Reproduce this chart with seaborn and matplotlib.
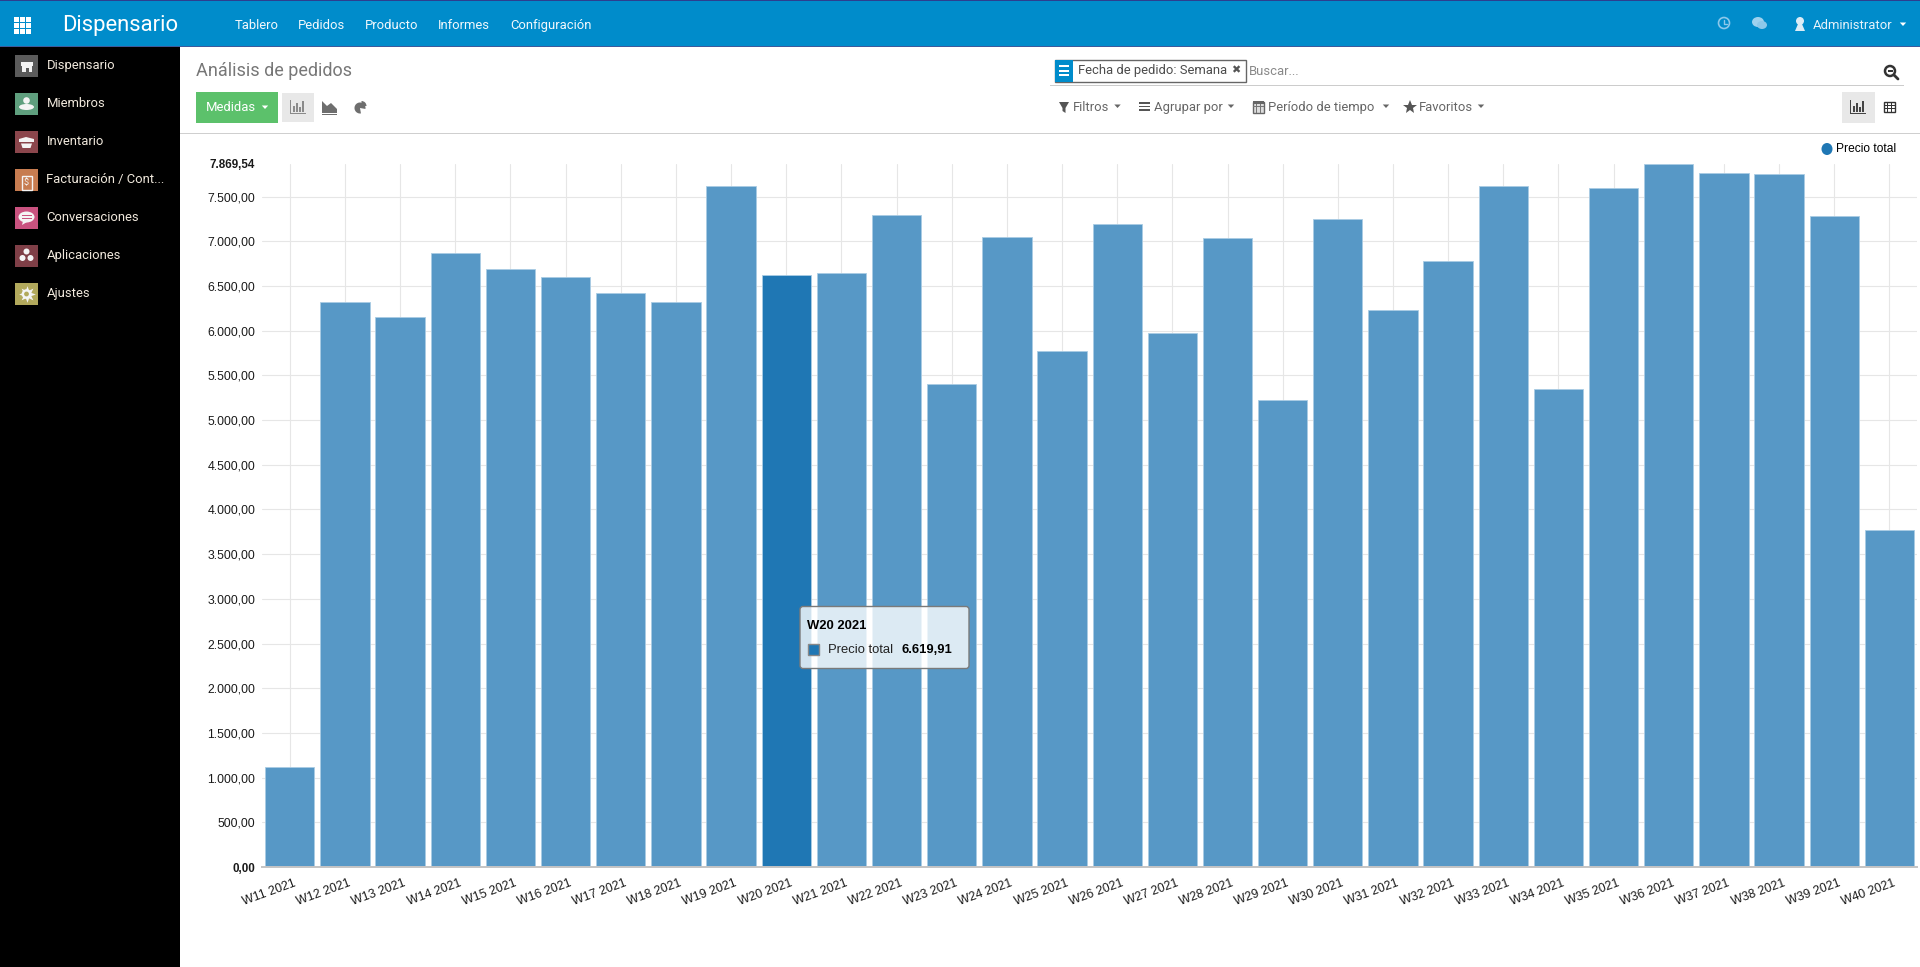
# Odoo "Análisis de pedidos": gráfico de barras semanal con la interfaz alrededor
import matplotlib.pyplot as plt
import seaborn as sns
from matplotlib.patches import Circle, Ellipse, FancyBboxPatch, Polygon, Rectangle, Wedge
from matplotlib.transforms import ScaledTranslation

weeks = ["W%d 2021" % w for w in range(11, 41)]
precio_total = [1115, 6325, 6155, 6865, 6685, 6595, 6420, 6315, 7615, 6619.91,
                6642, 7295, 5405, 7048, 5775, 7192, 5975, 7036, 5225, 7252,
                6235, 6782, 7620, 5345, 7590, 7869.54, 7765, 7752, 7282, 3770]
y_ticks = [500 * i for i in range(16)] + [7869.54]
active_week = "W20 2021"

nav_labels = ["Tablero", "Pedidos", "Producto", "Informes", "Configuración"]
nav_x = [235, 298, 365, 438, 510]
side_labels = ["Dispensario", "Miembros", "Inventario", "Facturación / Cont...",
               "Conversaciones", "Aplicaciones", "Ajustes"]
side_colors = ["#5b5b5b", "#5f9f7e", "#8b464c", "#c77c50", "#c9527f", "#7f3f47", "#b2a95c"]

BAR = "#5798c6"
ACTIVE = "#1f77b4"
GRID = "#e6e6e6"
CHART_FONT = "Liberation Sans"
UI_FONT = "Roboto"


def es_num(v):
    return f"{v:,.2f}".replace(",", "#").replace(".", ",").replace("#", ".")


def px(size):
    return size * 0.72


sns.set_theme(style="whitegrid")
plt.rcParams["font.family"] = [UI_FONT, "DejaVu Sans"]

W, H = 1920, 967
fig = plt.figure(figsize=(19.2, 9.67), dpi=100, facecolor="white")

# grafico
left, right, top, bottom = 262.2, 1917, 163.5, 867
ax = fig.add_axes([left / W, 1 - bottom / H, (right - left) / W, (bottom - top) / H])
sns.barplot(x=weeks, y=precio_total, hue=weeks, legend=False, width=0.894, ax=ax, saturation=1,
            palette=[ACTIVE if w == active_week else BAR for w in weeks],
            edgecolor="#a9cce4", linewidth=0.6)
ax.set_xlim(-0.5, len(weeks) - 0.5)
ax.set_ylim(0, max(y_ticks))
ax.set_yticks(y_ticks, [es_num(v) for v in y_ticks])
ax.set_xticks(range(len(weeks)), weeks)
ax.set_axisbelow(True)
ax.grid(True, color=GRID, linewidth=0.8)
ax.yaxis.get_gridlines()[-1].set_visible(False)
ax.set_facecolor("white")
for name in ["left", "right", "top"]:
    ax.spines[name].set_visible(False)
ax.spines["bottom"].set_color("#c4c4c4")
ax.spines["bottom"].set_linewidth(1.4)
ax.tick_params(axis="y", length=3, width=0.8, color=GRID, pad=2, labelcolor="#1a1a1a")
ax.tick_params(axis="x", length=0, pad=7.5, labelcolor="#1a1a1a")
for label in ax.get_yticklabels():
    label.set_fontfamily(CHART_FONT)
    label.set_fontsize(px(12.2))
shift = ScaledTranslation(3.5 / 100, 0, fig.dpi_scale_trans)
for label in ax.get_xticklabels():
    label.set_fontfamily(CHART_FONT)
    label.set_fontsize(px(12.4))
    label.set_rotation(20)
    label.set_rotation_mode("anchor")
    label.set_ha("right")
    label.set_transform(label.get_transform() + shift)
for label in [ax.get_yticklabels()[0], ax.get_yticklabels()[-1]]:
    label.set_fontweight("bold")
    label.set_fontsize(px(11.6))

# interfaz en pixeles
ui = fig.add_axes([0, 0, 1, 1], zorder=5)
ui.set_xlim(0, W)
ui.set_ylim(H, 0)
ui.axis("off")
ui.patch.set_alpha(0)


def rect(x0, y0, x1, y1, color, **kw):
    ui.add_patch(Rectangle((x0, y0), x1 - x0, y1 - y0, facecolor=color, edgecolor="none", **kw))


def text(x, y, s, size=13, color="#555555", family=UI_FONT, **kw):
    ui.text(x, y + 0.8, s, fontsize=px(size), color=color, family=family, va="center", **kw)


def caret(x, y, color="#666666", s=3.2):
    ui.add_patch(Polygon([(x - s, y - 1.5), (x + s, y - 1.5), (x, y + 2)], facecolor=color, edgecolor="none"))


def bars_icon(cx, cy, color):
    rect(cx - 8, cy + 6, cx + 8, cy + 7, color)
    rect(cx - 8, cy - 7, cx - 7, cy + 7, color)
    for dx, h in zip([-5, -2, 1, 4], [6, 9, 5, 11]):
        rect(cx + dx, cy + 5 - h, cx + dx + 2, cy + 5, color)


# barra superior
rect(0, 0, W, 47, "#008ccb")
rect(0, 0, W, 1, "#2c3e8f")
rect(0, 46, W, 47, "#3d5a9c")
for i in range(3):
    for j in range(3):
        rect(14 + 6.2 * i, 16.5 + 6.2 * j, 19 + 6.2 * i, 21.5 + 6.2 * j, "white")
text(62, 24.5, "Dispensario", size=22, color="white")
for x, s in zip(nav_x, nav_labels):
    text(x, 24.5, s, color="#f2f8fc")
text(1812.6, 24.5, "Administrator", color="#e8f3fa")
caret(1903, 24, "white")
ui.add_patch(Circle((1724, 23), 5.5, facecolor="none", edgecolor="#8cc8ea", linewidth=1.2))
ui.plot([1724, 1724, 1726.5], [20, 23.5, 23.5], color="#8cc8ea", linewidth=1)
ui.add_patch(Ellipse((1758, 22), 12, 10, facecolor="#9ed1ee", edgecolor="none"))
ui.add_patch(Ellipse((1762, 25), 10, 8, facecolor="#8cc8ea", edgecolor="none"))
ui.add_patch(Circle((1800, 21), 4, facecolor="#dcecf6", edgecolor="none"))
ui.add_patch(Polygon([(1798, 24), (1802, 24), (1805, 31), (1795, 31)], facecolor="#dcecf6", edgecolor="none"))

# barra lateral
rect(0, 47, 180, H, "black")
for i, (s, c) in enumerate(zip(side_labels, side_colors)):
    cy = 66 + 38 * i
    rect(15, cy - 11, 38, cy + 11, c)
    text(46.5, cy - 1.2, s, color="#f0e8dc")
ic = "#f4f4f4"
rect(20.5, 61.5, 32.5, 66, ic)
rect(21.5, 66, 31.5, 71.5, ic)
rect(26, 67.5, 29, 71.5, side_colors[0])
ui.add_patch(Circle((26.5, 100.5), 3.3, facecolor=ic, edgecolor="none"))
ui.add_patch(Ellipse((26.5, 107), 15, 6, facecolor=ic, edgecolor="none"))
ui.add_patch(Polygon([(19, 139), (26, 137), (34, 139), (34, 142), (19, 142)], facecolor=ic, edgecolor="none"))
ui.add_patch(Polygon([(21, 143.5), (32, 143.5), (30.5, 148), (22.5, 148)], facecolor=ic, edgecolor="none"))
ui.add_patch(Rectangle((21.5, 176), 10, 14, facecolor="none", edgecolor=ic, linewidth=1))
ui.text(26.5, 183, "$", fontsize=px(9), color=ic, ha="center", va="center")
ui.add_patch(Ellipse((26.5, 217), 16, 11, facecolor=ic, edgecolor="none"))
rect(21.5, 215, 31.5, 216, side_colors[4])
rect(21.5, 218, 31.5, 219, side_colors[4])
ui.add_patch(Polygon([(23, 221), (27, 222), (22, 225)], facecolor=ic, edgecolor="none"))
for cx, cy in [(26.5, 251.5), (22.5, 258), (30.5, 258)]:
    ui.add_patch(Circle((cx, cy), 3, facecolor=ic, edgecolor="none"))
ui.plot([26.5], [294], marker=(8, 1, 0), markersize=12, color=ic, markeredgewidth=0, zorder=3)
ui.add_patch(Circle((26.5, 294), 4.8, facecolor=ic, edgecolor="none", zorder=3))
ui.add_patch(Circle((26.5, 294), 2.4, facecolor=side_colors[6], edgecolor="none", zorder=4))

# cabecera de la vista
text(196, 70.5, "Análisis de pedidos", size=18, color="#777777")
rect(196, 92, 278, 123, "#5cc16b")
text(206, 107, "Medidas", color="white")
caret(265, 107, "white")
rect(282, 93, 314, 122, "#e8e8e8")
bars_icon(297.5, 107, "#8a8a8a")
ui.add_patch(Polygon([(322, 113), (322, 101), (327, 106), (331, 103), (337, 109), (337, 113)], facecolor="#6e6e6e", edgecolor="none"))
rect(322, 113.5, 337, 114.5, "#6e6e6e")
ui.add_patch(Wedge((360, 108), 5.5, 80, 370, facecolor="#6e6e6e", edgecolor="none"))
ui.add_patch(Wedge((361.5, 106), 5, 270, 360, facecolor="#6e6e6e", edgecolor="none"))
rect(180, 133, W, 134, "#cfcfcf")

# buscador
ui.add_patch(Rectangle((1055, 59.5), 191, 22, facecolor="white", edgecolor="#666666", linewidth=1))
rect(1055, 59.5, 1073, 81.5, "#008ccb")
for y in [66, 70.5, 75]:
    rect(1059, y - 1, 1069, y + 1, "white")
text(1078, 69.5, "Fecha de pedido: Semana", color="#4c4c4c")
text(1236, 70, "✖", size=11, color="#555555", family="DejaVu Sans", ha="center")
text(1249, 70.5, "Buscar...", color="#888888")
rect(1050, 85, 1904, 86, "#cccccc")
ui.add_patch(Circle((1890, 71), 5, facecolor="none", edgecolor="#333333", linewidth=1.8))
ui.plot([1894, 1898], [75, 79], color="#333333", linewidth=2)
rect(1887.5, 70.4, 1892.5, 71.6, "#333333")

# filtros
ui.add_patch(Polygon([(1059, 102), (1069, 102), (1065.5, 108), (1065.5, 113), (1062.5, 111), (1062.5, 108)], facecolor="#555555", edgecolor="none"))
text(1072.5, 106.5, "Filtros", color="#666666")
caret(1117.5, 106)
for y in [103, 106.5, 110]:
    rect(1139, y - 0.8, 1150, y + 0.8, "#555555")
text(1153.6, 106.5, "Agrupar por", color="#666666")
caret(1231, 106)
ui.add_patch(Rectangle((1253, 102), 11, 11, facecolor="#dddddd", edgecolor="#666666", linewidth=1))
rect(1253, 101, 1264, 104, "#666666")
for x in [1256.5, 1260.5]:
    rect(x - 0.4, 104, x + 0.4, 113, "#777777")
for y in [106.5, 110]:
    rect(1253, y - 0.4, 1264, y + 0.4, "#777777")
text(1268, 106.5, "Período de tiempo", color="#666666")
caret(1386, 106)
ui.plot([1410], [106.5], marker="*", markersize=10, color="#555555", markeredgewidth=0)
text(1419, 106.5, "Favoritos", color="#666666")
caret(1481, 106)
rect(1842, 92, 1875, 123, "#e8e8e8")
bars_icon(1858, 107, "#444444")
ui.add_patch(Rectangle((1884, 102), 11, 10, facecolor="white", edgecolor="#333333", linewidth=1))
for y in [105.3, 108.6]:
    rect(1884, y - 0.5, 1895, y + 0.5, "#333333")
for x in [1887.7, 1891.3]:
    rect(x - 0.5, 102, x + 0.5, 112, "#333333")

# leyenda
ui.add_patch(Ellipse((1827, 149), 11, 12, facecolor=ACTIVE, edgecolor="none"))
text(1836, 148.5, "Precio total", size=12, color="black", family=CHART_FONT)

# tooltip
ui.add_patch(FancyBboxPatch((802, 608.5), 165, 58, boxstyle="round,pad=2,rounding_size=3",
                            facecolor="white", alpha=0.8, edgecolor="none"))
ui.add_patch(FancyBboxPatch((802, 608.5), 165, 58, boxstyle="round,pad=2,rounding_size=3",
                            facecolor="none", edgecolor="#7a7a7a", linewidth=1))
text(807, 625.5, active_week, size=13, color="black", family=CHART_FONT, fontweight="bold")
ui.add_patch(Rectangle((807.5, 644), 11, 11, facecolor=ACTIVE, edgecolor="#888888", linewidth=1))
text(828, 649.5, "Precio total", size=13, color="#222222", family=CHART_FONT)
text(902, 649.5, es_num(precio_total[weeks.index(active_week)]), size=13, color="black", family=CHART_FONT, fontweight="bold")

fig.savefig("out.png", dpi=100)
